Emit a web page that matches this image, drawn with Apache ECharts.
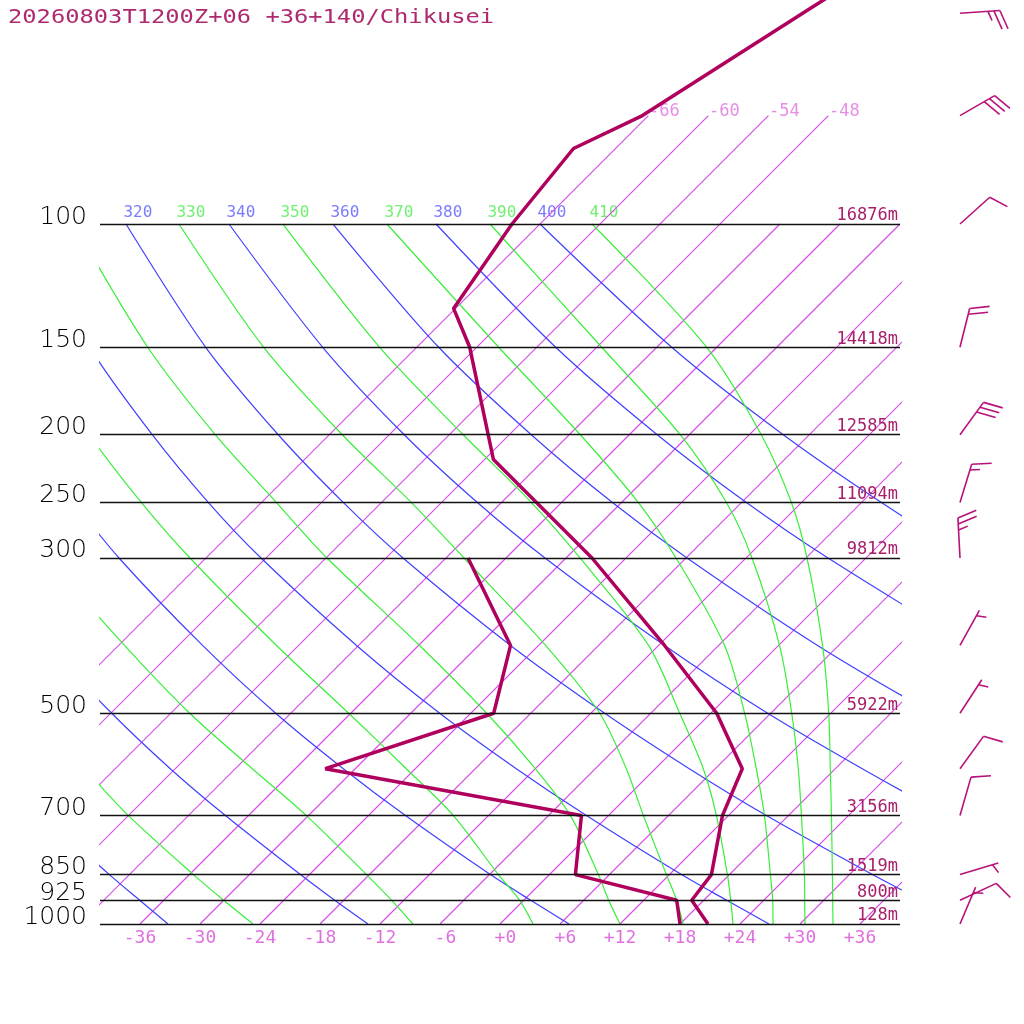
<!DOCTYPE html>
<html>
<head>
<meta charset="utf-8">
<title>20260803T1200Z+06 +36+140/Chikusei</title>
<script src="https://cdn.jsdelivr.net/npm/echarts@6.0.0/dist/echarts.min.js"></script>
<style>
  html, body { margin: 0; padding: 0; background: #ffffff; }
  #chart { width: 1024px; height: 1024px; }
</style>
</head>
<body>
<div id="chart"></div>
<script>
var titleText = '20260803T1200Z+06 +36+140/Chikusei';

// isobars and their heights
var isobarP = [100, 150, 200, 250, 300, 500, 700, 850, 925, 1000];
var isobarH = ['16876m', '14418m', '12585m', '11094m', '9812m', '5922m', '3156m', '1519m', '800m', '128m'];

// temperature profile (hPa / degC)
var tempP = [1000, 925, 850, 700, 600, 500, 400, 300, 217, 150, 132, 100, 78, 70, 50, 30];
var tempT = [20.8, 16.8, 16.2, 11.4, 8.7, 0.6, -11.4, -27.4, -47.1, -60.7, -66.2, -68.8, -70.2, -66.6, -60.8, -52.0];

// dew point profile
var dewP = [1000, 925, 850, 700, 600, 500, 400, 300];
var dewT = [18.0, 15.3, 2.6, -2.7, -33.0, -21.7, -26.8, -39.8];

// winds (direction deg, speed kt)
var windP = [1000, 925, 850, 700, 600, 500, 400, 300, 250, 200, 150, 100, 70, 50];
var windDir = [23, 65, 73, 16, 36, 33, 29, 357, 17, 36, 14, 48, 60, 86];
var windKt = [5, 10, 5, 10, 10, 5, 5, 25, 15, 30, 20, 10, 30, 25];

// isotherms (degC) and the pressure where each one stops
var isoT = [-66, -60, -54, -48, -42, -36, -30, -24, -18, -12, -6, 0, 6, 12, 18, 24, 30, 36];
var isoTopP = [70, 70, 70, 70, 100, 100, 100, 100, 100, 100, 100, 100, 100, 100, 100, 100, 100, 100];

// x axis tick labels
var xTicks = [-36, -30, -24, -18, -12, -6, 0, 6, 12, 18, 24, 30, 36];

// adiabats, temperatures read at these levels
var adiabatP = [100, 150, 200, 250, 300, 400, 500, 600, 700, 850, 925, 1000];

var dryTheta = [240, 260, 280, 300, 320, 340, 360, 380, 400];
var dryT = [
  [-148.8, -133.6, -121.6, -111.6, -103.0, -88.4, -76.3, -65.7, -56.4, -44.0, -38.4, -33.2],
  [-138.5, -121.9, -109.0, -98.2, -88.8, -73.0, -59.9, -48.5, -38.3, -24.9, -18.9, -13.2],
  [-128.1, -110.3, -96.4, -84.7, -74.7, -57.6, -43.5, -31.2, -20.3, -5.9, 0.7, 6.9],
  [-117.8, -98.7, -83.7, -71.3, -60.5, -42.2, -27.1, -13.9, -2.2, 13.2, 20.3, 26.9],
  [-107.4, -87.1, -71.1, -57.8, -46.3, -26.8, -10.6, 3.4, 15.8, 32.3, 39.8, 46.9],
  [-97.1, -75.4, -58.5, -44.4, -32.1, -11.4, 5.7, 20.7, 33.9, 51.4, 59.4, 66.9],
  [-86.7, -63.8, -45.8, -30.9, -17.9, 3.9, 22.2, 38.0, 52.0, 70.5, 78.9, 86.9],
  [-76.4, -52.1, -33.2, -17.5, -3.8, 19.3, 38.6, 55.2, 70.0, 89.6, 98.5, 106.9],
  [-66.0, -40.5, -20.6, -4.0, 10.4, 34.7, 55.0, 72.5, 88.1, 108.7, 118.1, 126.9]
];

var moistTheta = [250, 270, 290, 310, 330, 350, 370, 390, 410];
var moistT = [
  [-143.7, -127.8, -115.3, -104.9, -95.9, -80.7, -68.1, -57.1, -48.0, -35.6, -30.0, -24.7],
  [-133.3, -116.1, -102.7, -91.5, -81.8, -65.4, -52.1, -40.3, -30.2, -18.3, -13.2, -8.7],
  [-123.0, -104.5, -90.0, -78.0, -67.6, -50.2, -36.2, -24.9, -15.5, -5.1, -0.4, 3.3],
  [-112.6, -92.9, -77.4, -64.5, -53.9, -35.9, -22.4, -12.0, -3.8, 4.9, 8.5, 12.0],
  [-102.1, -81.3, -64.7, -51.0, -40.2, -23.3, -11.1, -2.9, 3.5, 11.7, 15.3, 18.3],
  [-91.7, -69.7, -52.6, -39.0, -28.6, -13.0, -3.1, 4.8, 10.8, 17.8, 20.7, 23.3],
  [-81.3, -57.8, -40.9, -28.3, -19.0, -5.4, 3.4, 10.1, 15.6, 22.1, 24.9, 27.3],
  [-71.0, -47.5, -30.9, -19.5, -11.4, 0.1, 8.1, 14.3, 19.3, 25.5, 28.1, 30.5],
  [-60.8, -37.0, -22.8, -13.0, -5.9, 4.4, 11.8, 17.5, 22.3, 28.3, 30.9, 33.3]
];

// 45 degree skew: shift in degC per unit of ln(1000/p)
var SKEW = 30.4;
function skewX(t, p) { return t + SKEW * Math.log(1000 / p); }

function profile(ps, ts) {
  return ps.map(function (p, i) { return [skewX(ts[i], p), p]; });
}

function curves(tables) {
  var out = [];
  tables.forEach(function (ts) {
    adiabatP.forEach(function (p, j) { out.push([skewX(ts[j], p), p]); });
    out.push(['-', '-']);
  });
  return out;
}

var isoData = [];
isoT.forEach(function (t, i) {
  isoData.push([skewX(t, 1000), 1000], [skewX(t, isoTopP[i]), isoTopP[i]], ['-', '-']);
});

var isoLabels = [];
isoT.forEach(function (t, i) {
  if (isoTopP[i] === 70) isoLabels.push({ name: String(t), value: [skewX(t, 70), 70] });
});

var thetaLabels = [];
dryTheta.forEach(function (th, i) {
  thetaLabels.push({ name: String(th), value: [skewX(dryT[i][0], 100), 100], label: { color: '#5a5aff' } });
});
moistTheta.forEach(function (th, i) {
  thetaLabels.push({ name: String(th), value: [skewX(moistT[i][0], 100), 100], label: { color: '#4cec4c' } });
});

var isobarLines = [];
isobarP.forEach(function (p, i) {
  isobarLines.push({ yAxis: p, label: { show: true, position: 'start', formatter: String(p),
    color: '#000', fontFamily: 'DejaVu Sans', fontWeight: 200, fontSize: 25, distance: 13,
    verticalAlign: 'bottom', lineHeight: 14 } });
  isobarLines.push({ yAxis: p, lineStyle: { color: 'rgba(0,0,0,0)' }, label: { show: true, position: 'insideEndTop',
    formatter: isobarH[i], color: '#a8206a', fontFamily: 'DejaVu Sans Mono', fontSize: 17,
    distance: 2, lineHeight: 12 } });
});

var BARB_X = 46; // wind barb column, right of the diagram
function renderBarb(params, api) {
  var base = api.coord([api.value(0), api.value(1)]);
  var a = api.value(2) * Math.PI / 180;
  var kt = api.value(3);
  var ux = Math.sin(a), uy = -Math.cos(a);
  var r = 70 * Math.PI / 180;
  var fx = ux * Math.cos(r) - uy * Math.sin(r);
  var fy = ux * Math.sin(r) + uy * Math.cos(r);
  var shaft = 40, gap = 6;
  var st = { stroke: '#b8127a', lineWidth: 1.6 };
  var kids = [{ type: 'line', shape: { x1: base[0], y1: base[1], x2: base[0] + ux * shaft, y2: base[1] + uy * shaft }, style: st }];
  var nFull = Math.floor(kt / 10);
  var nHalf = (kt % 10) >= 5 ? 1 : 0;
  var k = nFull === 0 ? 1 : 0;
  function feather(len) {
    var d = shaft - k * gap;
    var x0 = base[0] + ux * d, y0 = base[1] + uy * d;
    kids.push({ type: 'line', shape: { x1: x0, y1: y0, x2: x0 + fx * len, y2: y0 + fy * len }, style: st });
    k++;
  }
  for (var i = 0; i < nFull; i++) feather(20);
  if (nHalf) feather(10);
  return { type: 'group', children: kids };
}

var chart = echarts.init(document.getElementById('chart'));
chart.setOption({
  animation: false,
  backgroundColor: '#ffffff',
  graphic: [{
    type: 'text', left: 8, top: 9, scaleX: 1.25,
    style: { text: titleText, fontFamily: 'DejaVu Sans Mono', fontSize: 19, fill: '#ae2a6e' }
  }],
  grid: { left: 100, right: 124, top: 0, bottom: 100, containLabel: false },
  xAxis: {
    type: 'value', min: -40, max: 40, interval: 2,
    axisLine: { show: false }, axisTick: { show: false }, splitLine: { show: false },
    axisLabel: {
      interval: 0, margin: 5, color: '#e070e0', fontFamily: 'DejaVu Sans Mono', fontSize: 18,
      formatter: function (v) {
        v = Math.round(v);
        if (xTicks.indexOf(v) < 0) return '';
        var s = v < 0 ? String(v) : '+' + v;
        return s.length < 3 ? ' ' + s : s;
      }
    }
  },
  yAxis: {
    type: 'log', logBase: 10, min: 47.86, max: 1000, inverse: true,
    axisLine: { show: false }, axisTick: { show: false }, splitLine: { show: false }, axisLabel: { show: false }
  },
  series: [
    {
      name: 'isotherms', type: 'line', data: isoData, showSymbol: false, clip: true, silent: true,
      smooth: true, color: '#d84ce8',
      lineStyle: { color: '#d84ce8', width: 1.2 }, connectNulls: false
    },
    {
      name: 'dry adiabats', type: 'line', data: curves(dryT), showSymbol: false, clip: true, silent: true,
      smooth: 0.3, lineStyle: { color: '#4040ff', width: 1.2 }, connectNulls: false
    },
    {
      name: 'moist adiabats', type: 'line', data: curves(moistT), showSymbol: false, clip: true, silent: true,
      smooth: 0.3, lineStyle: { color: '#38ee38', width: 1.2 }, connectNulls: false
    },
    {
      name: 'isobars', type: 'line', data: [], silent: true,
      markLine: { silent: true, symbol: 'none', animation: false,
        lineStyle: { color: '#111', width: 1.3, type: 'solid' }, data: isobarLines }
    },
    {
      name: 'dew point', type: 'line', data: profile(dewP, dewT), showSymbol: false, clip: true,
      lineStyle: { color: '#b0005e', width: 3.5 }
    },
    {
      name: 'temperature', type: 'line', data: profile(tempP, tempT), showSymbol: false, clip: true,
      lineStyle: { color: '#b0005e', width: 3.5 }
    },
    {
      name: 'theta labels', type: 'scatter', data: thetaLabels, symbolSize: 1, clip: true, silent: true,
      itemStyle: { color: 'rgba(0,0,0,0)' },
      label: { show: true, formatter: '{b}', position: [-2, -11], align: 'left', verticalAlign: 'middle',
        fontFamily: 'DejaVu Sans Mono', fontSize: 16 }
    },
    {
      name: 'isotherm labels', type: 'scatter', data: isoLabels, symbolSize: 1, clip: true, silent: true,
      itemStyle: { color: 'rgba(0,0,0,0)' },
      label: { show: true, formatter: '{b}', position: [1, -4], align: 'left', verticalAlign: 'middle',
        color: '#e070e0', fontFamily: 'DejaVu Sans Mono', fontSize: 17 }
    },
    {
      name: 'wind', type: 'custom', clip: false, silent: true,
      data: windP.map(function (p, i) { return [BARB_X, p, windDir[i], windKt[i]]; }),
      encode: { x: 0, y: 1 },
      renderItem: renderBarb
    }
  ]
});
</script>
</body>
</html>
